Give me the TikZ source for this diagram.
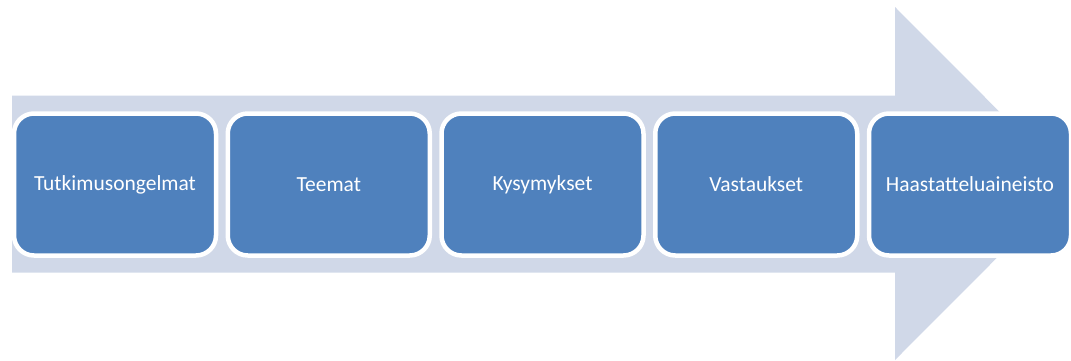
\documentclass[tikz,border=0pt]{standalone}
\usepackage{fontspec}
\setmainfont{Carlito}
\usepackage{tikz}
\usetikzlibrary{positioning}
\definecolor{shaftblue}{RGB}{208,216,232}
\definecolor{stepblue}{RGB}{79,129,189}

\begin{document}
\begin{tikzpicture}[
    x=1pt, y=-1pt,
    node distance=11.75pt,
    stagebox/.style={rectangle, draw=white, line width=4.5pt, rounded corners=20pt, fill=stepblue, text=white, outer sep=0pt, minimum width=202pt, minimum height=142pt, align=center, font=\fontsize{21.5}{25}\selectfont}
]
\useasboundingbox (0,0) rectangle (1071,360);

% Big arrow behind
\fill[shaftblue] (12,95.5) -- (895,95.5) -- (895,7) -- (1071,183.5) -- (895,360) -- (895,272.5) -- (12,272.5) -- cycle;

% Nodes
\node[stagebox] (problems) at (115,184.5) {Tutkimusongelmat};
\node[stagebox, right=of problems] (themes) {Teemat};
\node[stagebox, right=of themes] (questions) {Kysymykset};
\node[stagebox, right=of questions] (answers) {Vastaukset};
\node[stagebox, right=of answers] (material) {Haastatteluaineisto};

\end{tikzpicture}
\end{document}
